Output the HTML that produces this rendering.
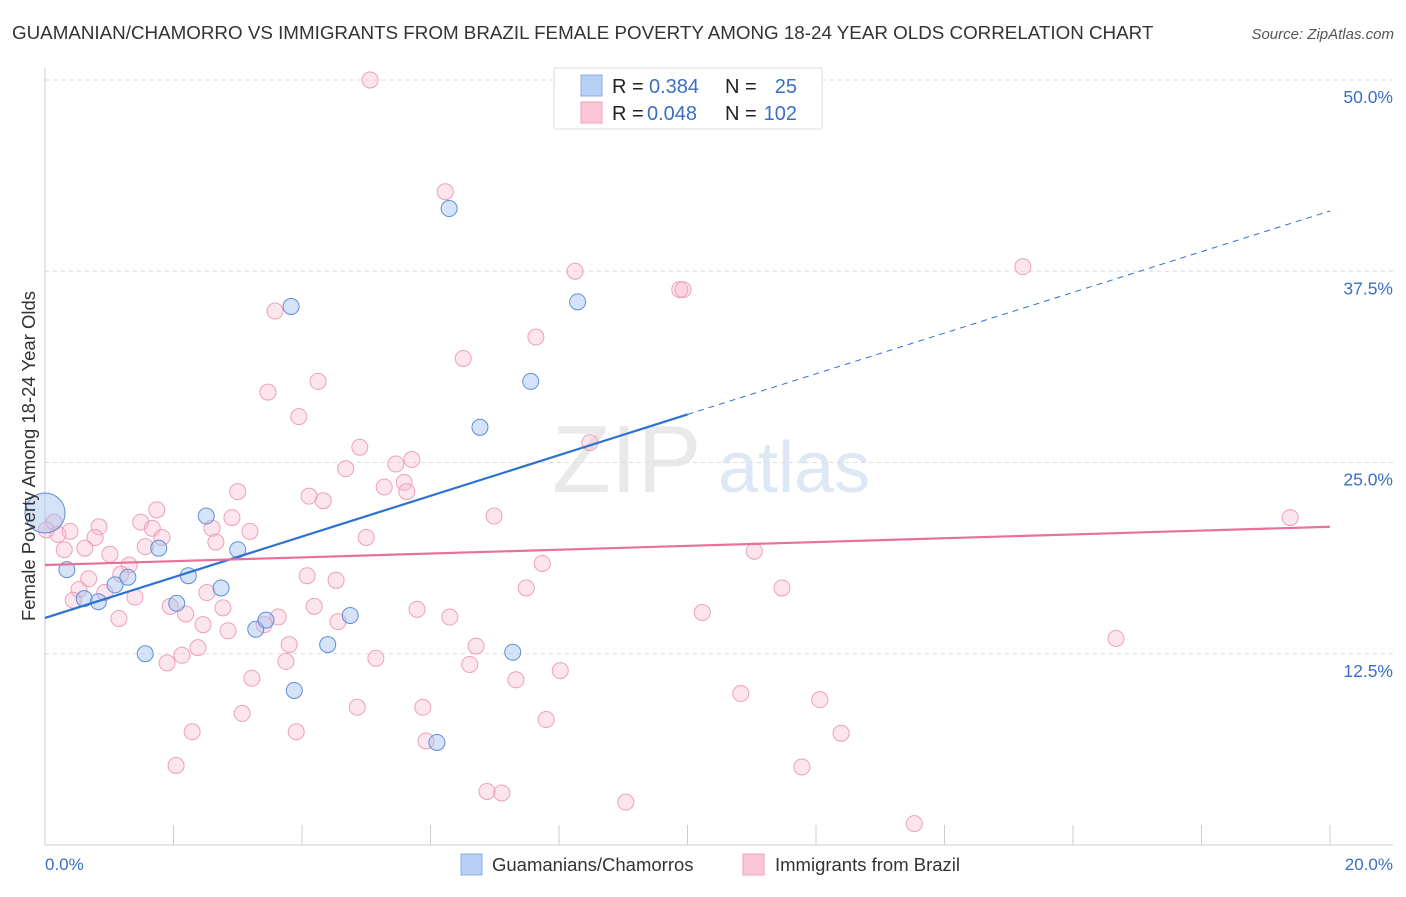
<!DOCTYPE html>
<html><head><meta charset="utf-8"><style>
body{margin:0;background:#fff;font-family:"Liberation Sans",sans-serif;}
svg text{font-family:"Liberation Sans",sans-serif;}
</style></head><body>
<svg id="chart" width="1406" height="892" xmlns="http://www.w3.org/2000/svg">
<text x="12" y="39" font-size="18.8" fill="#333">GUAMANIAN/CHAMORRO VS IMMIGRANTS FROM BRAZIL FEMALE POVERTY AMONG 18-24 YEAR OLDS CORRELATION CHART</text>
<text x="1394" y="39" font-size="15" fill="#555" font-style="italic" text-anchor="end">Source: ZipAtlas.com</text>
<g opacity="0.18">
<text x="552" y="492" font-size="96" font-family="Liberation Serif" fill="#888">ZIP</text>
<text x="718" y="492" font-size="72" fill="#4a7fd0">atlas</text>
</g>
<g id="grid"></g>
<g id="marks"></g>
<text transform="translate(35,456) rotate(-90)" font-size="18.5" fill="#333" text-anchor="middle">Female Poverty Among 18-24 Year Olds</text>
<text x="45" y="870" font-size="17" fill="#3a6fc4">0.0%</text>
<text x="1393" y="870" font-size="17" fill="#3a6fc4" text-anchor="end">20.0%</text>
<g>
<rect x="554" y="68" width="268" height="61" fill="#fff" stroke="#ddd"/>
<rect x="581" y="75" width="21" height="21" fill="#b7d0f4" stroke="#8aaee6"/>
<rect x="581" y="102" width="21" height="21" fill="#fbc7d7" stroke="#f0a0b9"/>
<text x="612" y="93" font-size="20" fill="#222">R =</text>
<text x="649" y="93" font-size="20" fill="#3a6fc4">0.384</text>
<text x="725" y="93" font-size="20" fill="#222">N =</text>
<text x="797" y="93" font-size="20" fill="#3a6fc4" text-anchor="end">25</text>
<text x="612" y="120" font-size="20" fill="#222">R =</text>
<text x="647" y="120" font-size="20" fill="#3a6fc4">0.048</text>
<text x="725" y="120" font-size="20" fill="#222">N =</text>
<text x="797" y="120" font-size="20" fill="#3a6fc4" text-anchor="end">102</text>
</g>
<g>
<rect x="461" y="854" width="21" height="21" fill="#b7d0f4" stroke="#8aaee6"/>
<text x="492" y="871" font-size="18.5" fill="#333">Guamanians/Chamorros</text>
<rect x="743" y="854" width="21" height="21" fill="#fbc7d7" stroke="#f0a0b9"/>
<text x="775" y="871" font-size="18.5" fill="#333">Immigrants from Brazil</text>
</g>
</svg>
<script>
const yTicks=[12.5,25,37.5,50];
const yTickLabels=["12.5%","25.0%","37.5%","50.0%"];
const xTicks=[0,2,4,6,8,10,12,14,16,18,20];
const blueX=[0,0.34,0.61,0.83,1.09,1.29,1.56,1.77,2.05,2.23,2.51,2.74,3.0,3.28,3.44,3.83,3.88,4.4,4.75,6.29,6.77,7.28,7.56,8.29,6.1];
const blueY=[21.7,18.0,16.1,15.9,17.0,17.5,12.5,19.4,15.8,17.6,21.5,16.8,19.3,14.1,14.7,35.2,10.1,13.1,15.0,41.6,27.3,12.6,30.3,35.5,6.7];
const pinkX=[5.06,8.14,6.23,8.25,15.22,9.88,9.93,3.58,7.64,6.51,4.25,3.47,3.95,8.48,4.9,4.68,5.46,5.71,5.59,5.28,5.63,3.0,4.11,4.33,6.99,1.74,19.38,2.91,1.49,0.84,1.67,0.39,0.14,0.02,2.6,3.19,5.0,1.82,2.66,0.78,1.56,0.3,0.62,11.04,1.01,7.74,1.31,1.18,0.68,4.08,4.53,7.49,11.47,0.53,0.93,1.4,0.44,2.52,1.95,2.77,4.19,5.79,10.23,1.15,2.19,3.63,3.41,6.3,4.56,2.46,2.85,16.67,3.8,6.71,2.38,2.13,5.15,3.75,1.9,6.61,8.02,3.22,7.33,10.83,12.06,4.86,3.07,5.88,7.8,2.29,3.91,12.39,5.93,2.04,11.78,6.88,7.11,9.04,13.53,0.2];
const pinkY=[50.0,48.5,42.7,37.5,37.8,36.3,36.3,34.9,33.2,31.8,30.3,29.6,28.0,26.3,26.0,24.6,24.9,25.2,23.7,23.4,23.1,23.1,22.8,22.5,21.5,21.9,21.4,21.4,21.1,20.8,20.7,20.5,21.1,20.6,20.7,20.5,20.1,20.1,19.8,20.1,19.5,19.3,19.4,19.2,19.0,18.4,18.3,17.7,17.4,17.6,17.3,16.8,16.8,16.7,16.5,16.2,16.0,16.5,15.6,15.5,15.6,15.4,15.2,14.8,15.1,14.9,14.4,14.9,14.6,14.4,14.0,13.5,13.1,13.0,12.9,12.4,12.2,12.0,11.9,11.8,11.4,10.9,10.8,9.9,9.5,9.0,8.6,9.0,8.2,7.4,7.4,7.3,6.8,5.2,5.1,3.5,3.4,2.8,1.4,20.3];
const blueTrend=[14.84,1.33];
const pinkTrend=[18.3,0.125];
const X=v=>45+v*64.25, Y=v=>845-v*15.3;
const NS="http://www.w3.org/2000/svg";
function mk(p,tag,at){const e=document.createElementNS(NS,tag);for(const k in at)e.setAttribute(k,at[k]);p.appendChild(e);return e;}
const grid=document.getElementById('grid'), marks=document.getElementById('marks');
yTicks.forEach((t,i)=>{
 const l=mk(grid,'line',{x1:45,x2:1393,y1:Y(t),y2:Y(t),stroke:'#ddd','stroke-dasharray':'4,4'});
 
 
 const tx=mk(grid,'text',{x:1393,y:Y(t)+23,'font-size':17.5,fill:'#3a6fc4','text-anchor':'end'});
 tx.textContent=yTickLabels[i];
 
 
});
const ax=mk(grid,'line',{x1:45,x2:1393,y1:845,y2:845,stroke:'#ccc'});


const ay=mk(grid,'line',{x1:45,x2:45,y1:68,y2:845,stroke:'#ccc'});


xTicks.forEach(t=>{if(t%2)return;
 const l=mk(grid,'line',{x1:X(t),x2:X(t),y1:825,y2:845,stroke:'#ccc'});
 
 
});
pinkX.forEach((x,i)=>{
 const c=mk(marks,'circle',{cx:X(x),cy:Y(pinkY[i]),r:8,fill:'rgba(248,180,202,0.35)',stroke:'#eea0b8','stroke-width':1});
 
 
});
blueX.forEach((x,i)=>{
 const c=mk(marks,'circle',{cx:X(x),cy:Y(blueY[i]),r:i===0?20:8,fill:'rgba(160,194,240,0.45)',stroke:'#5e8fd8','stroke-width':1});
 
 
});
const bl=mk(marks,'line',{x1:X(0),y1:Y(blueTrend[0]),x2:X(10),y2:Y(blueTrend[0]+10*blueTrend[1]),stroke:'#2d72d2','stroke-width':2.2});


const bd=mk(marks,'line',{x1:X(10),y1:Y(blueTrend[0]+10*blueTrend[1]),x2:X(20),y2:Y(blueTrend[0]+20*blueTrend[1]),stroke:'#2d72d2','stroke-width':1,'stroke-dasharray':'6,5'});


const pl=mk(marks,'line',{x1:X(0),y1:Y(pinkTrend[0]),x2:X(20),y2:Y(pinkTrend[0]+20*pinkTrend[1]),stroke:'#e8709a','stroke-width':2.2});


</script>
</body></html>
